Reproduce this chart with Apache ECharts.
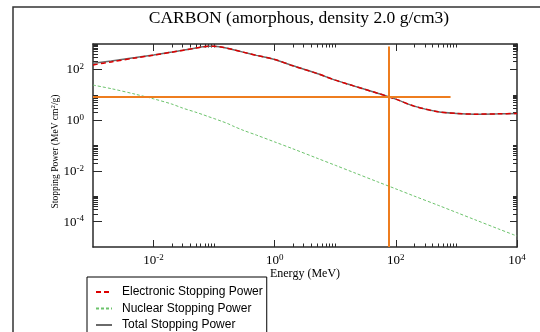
<!DOCTYPE html>
<html><head><meta charset="utf-8">
<script src="https://cdn.jsdelivr.net/npm/echarts@6/dist/echarts.min.js"></script>
<style>html,body{margin:0;padding:0;background:#fff}#c{width:540px;height:332px}</style>
</head><body><div id="c"></div>
<script>
const title = 'CARBON (amorphous, density 2.0 g/cm3)';
const energy = [1e-3, 2e-3, 5e-3, 1e-2, 2e-2, 3e-2, 5e-2, 0.065, 0.08, 0.1, 0.13, 0.17, 0.2, 0.3, 0.5, 1, 2, 5, 10, 20, 50, 100, 200, 500, 1000, 2000, 5000, 10000];
const electronic = [150, 197, 282, 365, 476, 560, 690, 770, 810, 810, 760, 670, 610, 478, 356, 245, 138, 69, 37.6, 22.4, 11.5, 6.7, 3.56, 2.12, 1.83, 1.72, 1.77, 1.83];
const nuclear = [24, 17.4, 10.5, 6.9, 4.3, 3.0, 2.04, 1.65, 1.38, 1.15, 0.92, 0.72, 0.60, 0.40, 0.257, 0.138, 0.074, 0.0316, 0.0166, 0.0087, 0.0037, 0.00195, 0.00102, 0.00044, 0.00023, 0.00012, 0.000051, 0.000027];
const total = [174, 214, 292, 372, 480, 563, 692, 772, 811, 811, 761, 671, 611, 478, 356, 245, 138, 69, 37.6, 22.4, 11.5, 6.7, 3.56, 2.12, 1.83, 1.72, 1.77, 1.83];
const markerEnergy = 77;
const markerStopping = 8.1;
const hLine = [[1e-3, markerStopping], [800, markerStopping]];
const vLine = [[markerEnergy, 1e-5], [markerEnergy, 800]];
const seriesNames = ['Electronic Stopping Power', 'Nuclear Stopping Power', 'Total Stopping Power'];
const xLabelTicks = [1e-2, 1, 1e2, 1e4];
const yLabelTicks = [1e-4, 1e-2, 1, 1e2];
const xMinorDecades = [1e-2, 1, 1e2];
const yMinorDecades = [1e-4, 1e-2, 1, 1e2];
const minorMult = [2, 3, 4, 5, 6, 7, 8, 9, 10];

const xMinor = [];
xMinorDecades.forEach(d => minorMult.forEach(m => xMinor.push(d * m)));
const yMinor = [];
yMinorDecades.forEach(d => minorMult.forEach(m => yMinor.push(d * m)));

const serif = 'Liberation Serif, Times New Roman, serif';
const axisColor = '#2a2a2a';
const XMIN = 1e-3, XMAX = 1e4, YMIN = 1e-5, YMAX = 1e3;

function supFmt(v) {
  const e = Math.round(Math.log10(v));
  return '{b|10}{s|' + e + '}';
}
const rich = {
  b: {fontFamily: serif, fontSize: 13, color: '#000', lineHeight: 14, verticalAlign: 'bottom'},
  s: {fontFamily: serif, fontSize: 9, color: '#000', lineHeight: 14, verticalAlign: 'top'}
};

function mkAxis(pos, isX, ticks, len, showLine, labels, extra) {
  const a = {
    type: 'log', logBase: 10, position: pos,
    min: isX ? XMIN : YMIN, max: isX ? XMAX : YMAX,
    axisLine: {show: showLine, onZero: false, lineStyle: {color: axisColor, width: 1.5}},
    axisTick: {show: true, inside: true, length: len, customValues: ticks, lineStyle: {color: axisColor, width: 1}},
    axisLabel: labels ? {show: true, customValues: labels, formatter: supFmt, rich: rich, margin: isX ? 6 : 9} : {show: false},
    splitLine: {show: false},
    minorTick: {show: false}
  };
  return Object.assign(a, extra || {});
}

const chart = echarts.init(document.getElementById('c'), null, {renderer: 'canvas'});
const option = {
  animation: false,
  backgroundColor: '#fff',
  title: {
    text: title, left: 294, top: 4, textAlign: 'center',
    textStyle: {fontFamily: serif, fontSize: 17.5, fontWeight: 'normal', color: '#000'}
  },
  graphic: [{
    type: 'rect', silent: true, z: -1,
    shape: {x: 13, y: 7, width: 600, height: 400},
    style: {fill: 'none', stroke: '#333', lineWidth: 1.5}
  }],
  legend: {
    data: seriesNames, orient: 'vertical', left: 87, top: 277, height: 120,
    borderColor: '#000', borderWidth: 1, padding: [9, 4, 14, 8], itemGap: 4.5,
    itemWidth: 16, itemHeight: 10,
    itemStyle: {opacity: 0},
    textStyle: {fontFamily: 'Liberation Sans, Arial, sans-serif', fontSize: 12, color: '#000', padding: [0, 0, 0, 5]}
  },
  grid: {left: 93, right: 23, top: 44, bottom: 85},
  xAxis: [
    mkAxis('bottom', true, xLabelTicks, 7, true, xLabelTicks, {
      name: 'Energy (MeV)', nameLocation: 'middle', nameGap: 21, nameMoveOverlap: false,
      nameTextStyle: {fontFamily: serif, fontSize: 12, color: '#000'}
    }),
    mkAxis('bottom', true, xMinor, 3.5, false, null),
    mkAxis('top', true, xLabelTicks, 7, true, null),
    mkAxis('top', true, xMinor, 3.5, false, null)
  ],
  yAxis: [
    mkAxis('left', false, yLabelTicks, 9, true, yLabelTicks, {
      name: 'Stopping Power (MeV cm{s|2}/g)', nameLocation: 'middle', nameGap: 33, nameRotate: 90, nameMoveOverlap: false,
      nameTextStyle: {fontFamily: serif, fontSize: 9.5, color: '#000', padding: [0, 12, 0, 0],
        rich: {s: {fontFamily: serif, fontSize: 7, color: '#000', verticalAlign: 'top', lineHeight: 10}}}
    }),
    mkAxis('left', false, yMinor, 5, false, null),
    mkAxis('right', false, yLabelTicks, 7, true, null),
    mkAxis('right', false, yMinor, 4, false, null)
  ],
  series: [
    {
      name: seriesNames[2], type: 'line', symbol: 'none', smooth: 0.3, z: 2,
      data: energy.map((e, i) => [e, total[i]]),
      lineStyle: {color: '#6a6a6a', width: 1.5, type: 'solid'}, itemStyle: {color: '#6a6a6a'}
    },
    {
      name: seriesNames[0], type: 'line', symbol: 'none', smooth: 0.3, z: 3,
      data: energy.map((e, i) => [e, electronic[i]]),
      lineStyle: {color: '#dd0000', width: 1.5, type: [5, 3]}, itemStyle: {color: '#dd0000'}
    },
    {
      name: seriesNames[1], type: 'line', symbol: 'none', smooth: 0.3, z: 3,
      data: energy.map((e, i) => [e, nuclear[i]]),
      lineStyle: {color: '#6cc36c', width: 1, type: [3, 2]}, itemStyle: {color: '#6cc36c'}
    },
    {
      name: 'marker-h', type: 'line', symbol: 'none', z: 4, data: hLine,
      lineStyle: {color: '#ee7d1f', width: 2}
    },
    {
      name: 'marker-v', type: 'line', symbol: 'none', z: 4, data: vLine,
      lineStyle: {color: '#ee7d1f', width: 2}
    }
  ]
};
chart.setOption(option);
</script>
</body></html>
